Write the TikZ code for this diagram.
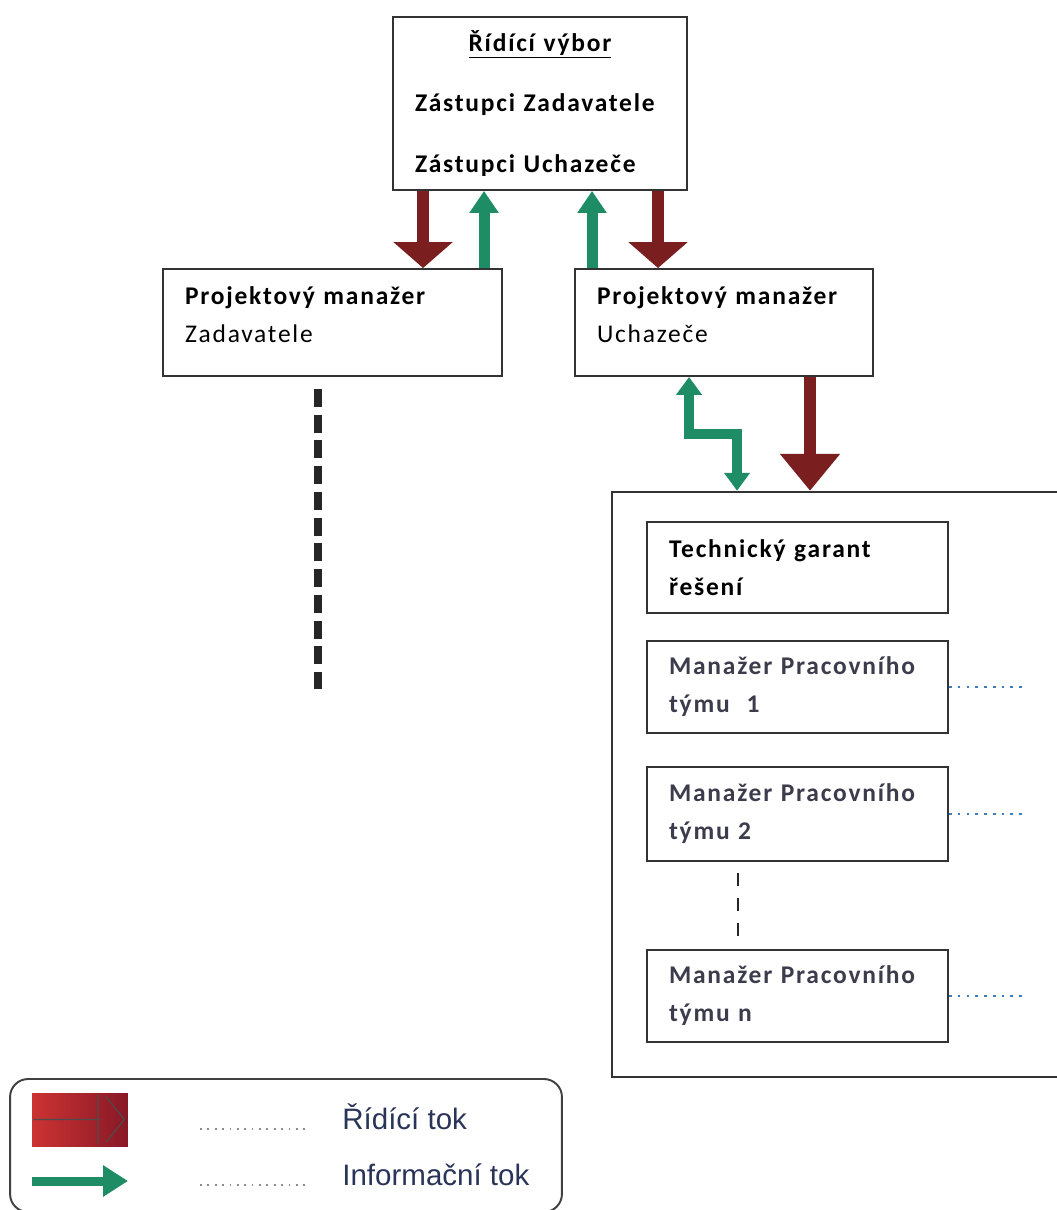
\documentclass[tikz,border=0pt]{standalone}
\usepackage{fontspec}
\usepackage{tikz}
\usepackage{xcolor}
\usetikzlibrary{arrows.meta, calc, positioning}
\setmainfont{Carlito}
\newfontfamily\boxfont[LetterSpace=7]{Carlito}
\newfontfamily\legendfont{Liberation Sans}
\definecolor{ridicicolor}{RGB}{122,30,32}
\definecolor{infocolor}{RGB}{30,140,100}
\definecolor{tymtext}{RGB}{60,60,76}
\definecolor{legtext}{RGB}{42,52,88}
\definecolor{tymdots}{RGB}{60,125,190}

\tikzset{
  box/.style={draw=black!80, line width=1.1pt, fill=white, inner xsep=0.44cm, align=left,
    font=\boxfont\fontsize{14.5pt}{21.6pt}\selectfont},
  ridici/.style={draw=ridicicolor, line width=0.24cm, -{Triangle[width=1.16cm,length=0.52cm]}, ridicicolor},
  info/.style={draw=infocolor, line width=0.22cm, -{Triangle[width=0.56cm,length=0.44cm]}, infocolor},
  tymdot/.style={tymdots, line width=1.3pt, dash pattern=on 1.5pt off 3.5pt},
  legdot/.style={black!45, line width=1pt, dash pattern=on 1pt off 3.2pt}
}

\begin{document}
\begin{tikzpicture}[x=0.02cm, y=-0.02cm]
                        \useasboundingbox (0,0) rectangle (1056,1210);
                        \node[box, text width=5.0cm, minimum height=3.46cm,
                          font=\boxfont\bfseries\fontsize{14.5pt}{34.7pt}\selectfont] (rv) at (540,103.5)
                          {\makebox[\linewidth]{\underline{Řídící výbor}}\\
                           Zástupci~Zadavatele\\ Zástupci~Uchazeče};
                        \node[box, text width=5.9cm, minimum height=2.14cm] (pmz) at (332.5,322.5)
                          {{\bfseries Projektový~manažer}\\Zadavatele\\[-12.5pt]\mbox{}};
                        \node[box, text width=5.08cm, minimum height=2.14cm] (pmu) at (724,322.5)
                          {{\bfseries Projektový~manažer}\\Uchazeče\\[-12.5pt]\mbox{}};
                        \node[draw=black!80, line width=1.5pt, minimum width=9.16cm, minimum height=11.7cm] (tym) at (841,784.5) {};
                        \node[box, text width=5.14cm, minimum height=1.82cm, font=\boxfont\bfseries\fontsize{14.5pt}{21.6pt}\selectfont] (tg) at (797.5,567.5)
                          {Technický~garant\\řešení};
                        \node[box, text width=5.14cm, minimum height=1.84cm, text=tymtext, font=\boxfont\bfseries\fontsize{14.5pt}{21.6pt}\selectfont,
                          below=0.52cm of tg] (pm1) {Manažer~Pracovního\\týmu~~1};
                        \node[box, text width=5.14cm, minimum height=1.88cm, text=tymtext, font=\boxfont\bfseries\fontsize{14.5pt}{21.6pt}\selectfont,
                          below=0.64cm of pm1] (pm2) {Manažer~Pracovního\\týmu~2};
                        \node[box, text width=5.14cm, minimum height=1.84cm, text=tymtext, font=\boxfont\bfseries\fontsize{14.5pt}{21.6pt}\selectfont,
                          below=1.74cm of pm2] (pmn) {Manažer~Pracovního\\týmu~n};
                        \coordinate (r1) at ([xshift=0.62cm]rv.south west);
                        \coordinate (g1) at ([xshift=1.84cm]rv.south west);
                        \coordinate (g2) at ([xshift=4.0cm]rv.south west);
                        \coordinate (r2) at ([xshift=5.32cm]rv.south west);
                        \coordinate (r3) at ([xshift=4.72cm]pmu.south west);
                        \coordinate (z1) at ([xshift=2.3cm]pmu.south west);
                        \coordinate (z2) at ([xshift=3.26cm]pmu.south west);
                        \coordinate (konec) at (318,689);
                        \draw[ridici] (r1) -- (r1 |- pmz.north);
                        \draw[ridici] (r2) -- (r2 |- pmu.north);
                        \draw[info] (g1 |- pmz.north) -- (g1);
                        \draw[info] (g2 |- pmu.north) -- (g2);
                        \draw[ridici, -{Triangle[width=1.16cm,length=0.74cm]}] (r3) -- (r3 |- tym.north);
                        \draw[info, line width=0.2cm, {Triangle[width=0.5cm,length=0.36cm]}-{Triangle[width=0.5cm,length=0.36cm]}]
                          (z1) -- ++(0,57) -| (z2 |- tym.north);
                        \draw[black!85, line width=0.16cm, dash pattern=on 0.36cm off 0.155cm] ($(pmz.south)+(-14.5,12)$) -- (konec);
                        \draw[black!85, line width=1.6pt, dash pattern=on 0.26cm off 0.24cm]
                          ($(pm2.south west)+(92,11)$) -- ($(pmn.north west)+(92,-11)$);
                        \draw[tymdot] (pm1.east) -- ++(78,0);
                        \draw[tymdot] (pm2.east) -- ++(78,0);
                        \draw[tymdot] (pmn.east) -- ++(78,0);
                        \node[draw=black!75, line width=1.1pt, rounded corners=0.36cm, minimum width=11.04cm, minimum height=2.66cm] (legenda) at (286,1145.5) {};
                        \node[minimum width=1.92cm, minimum height=1.06cm, inner sep=0, left color=red!75!black!80, right color=ridicicolor!80!purple] (sym1) at (80,1119.5) {};
                        \draw[black!70, line width=0.7pt] ($(sym1.west)+(2,0)$) -- ($(sym1.center)+(20,0)$)
                          ($(sym1.north)+(18,2)$) -- ($(sym1.south)+(18,-2)$)
                          ($(sym1.north)+(26,4)$) -- ($(sym1.east)+(-4,0)$) -- ($(sym1.south)+(26,-4)$);
                        \coordinate (sym2) at (32,1181);
                        \draw[info, line width=0.18cm, -{Triangle[width=0.6cm,length=0.5cm]}] (sym2) -- ++(96,0);
                        \node[anchor=base west, inner sep=0, text=legtext, font=\legendfont\fontsize{16.8pt}{20pt}\selectfont] (lt1) at (342,1129) {Řídící tok};
                        \node[anchor=base west, inner sep=0, text=legtext, font=\legendfont\fontsize{16.8pt}{20pt}\selectfont] (lt2) at (342,1185) {Informační tok};
                        \draw[legdot] ($(lt1.base west)+(-142,0)$) -- ($(lt1.base west)+(-32,0)$);
                        \draw[legdot] ($(lt2.base west)+(-142,0)$) -- ($(lt2.base west)+(-32,0)$);
                    \end{tikzpicture}
\end{document}
